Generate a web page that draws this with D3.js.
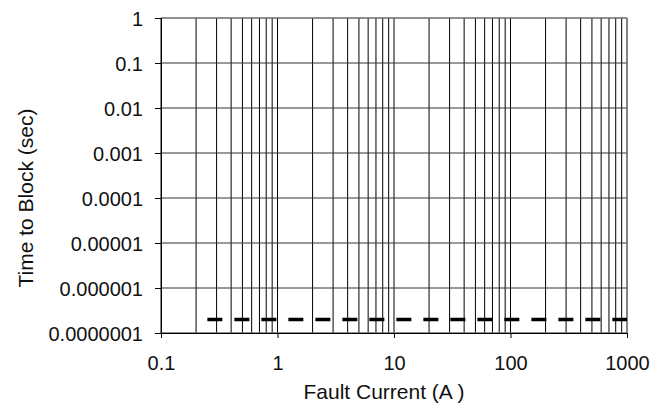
<!DOCTYPE html>
<html>
<head>
<meta charset="utf-8">
<script src="https://cdn.jsdelivr.net/npm/d3@7"></script>
<style>
  body { margin: 0; background: #fff; }
  text { font-family: 'Liberation Sans', Arial, sans-serif; fill: #111; }
</style>
</head>
<body>
<script>
// Data
const xTicks = [0.1, 1, 10, 100, 1000]
const xTickLabels = ['0.1', '1', '10', '100', '1000']
const yTicks = [1, 0.1, 0.01, 0.001, 0.0001, 0.00001, 0.000001, 0.0000001]
const yTickLabels = ['1', '0.1', '0.01', '0.001', '0.0001', '0.00001', '0.000001', '0.0000001']
const faultCurrent = [0.25, 1000]
const timeToBlock = [0.0000002, 0.0000002]

// Chart settings
const width = 655
const height = 405
const plotLeft = 161
const plotRight = 627
const plotTop = 18
const plotBottom = 333
const fontSize = 20

// Create svg
const svg = d3.select('body')
  .append('svg')
  .attr('width', width)
  .attr('height', height)

// Initialize scale
const xScale = d3.scaleLog()
  .domain([0.1, 1000])
  .range([plotLeft, plotRight])
const yScale = d3.scaleLog()
  .domain([0.0000001, 1])
  .range([plotBottom, plotTop])

// Add vertical grid lines
svg.append('g')
  .selectAll('line')
  .data(xScale.ticks())
  .enter()
  .append('line')
  .attr('x1', d => xScale(d))
  .attr('x2', d => xScale(d))
  .attr('y1', plotTop)
  .attr('y2', plotBottom)
  .attr('stroke', '#000')
  .attr('stroke-width', 1)

// Add horizontal grid lines
svg.append('g')
  .selectAll('line')
  .data(yTicks)
  .enter()
  .append('line')
  .attr('x1', plotLeft)
  .attr('x2', plotRight)
  .attr('y1', d => yScale(d))
  .attr('y2', d => yScale(d))
  .attr('stroke', '#333')
  .attr('stroke-width', 1)

// Add plot border
svg.append('rect')
  .attr('x', plotLeft)
  .attr('y', plotTop)
  .attr('width', plotRight - plotLeft)
  .attr('height', plotBottom - plotTop)
  .attr('fill', 'none')
  .attr('stroke', '#888')

// Add X axis
const xAxis = d3.axisBottom(xScale)
  .tickValues(xTicks)
  .tickFormat((d, i) => xTickLabels[i])
  .tickSize(5)
  .tickPadding(18)
svg.append('g')
  .attr('transform', `translate(0, ${plotBottom})`)
  .call(xAxis)
  .call(g => g.select('.domain').attr('stroke', '#000'))
  .call(g => g.selectAll('text').style('font-size', fontSize + 'px'))

// Add Y axis
const yAxis = d3.axisLeft(yScale)
  .tickValues(yTicks)
  .tickFormat((d, i) => yTickLabels[i])
  .tickSize(6)
  .tickPadding(12)
svg.append('g')
  .attr('transform', `translate(${plotLeft}, 0)`)
  .call(yAxis)
  .call(g => g.select('.domain').attr('stroke', '#000'))
  .call(g => g.selectAll('text').attr('dy', '0.38em').style('font-size', fontSize + 'px'))

// Add dashed line
const line = d3.line()
  .x(d => xScale(d[0]))
  .y(d => yScale(d[1]))
svg.append('path')
  .datum(faultCurrent.map((d, i) => [d, timeToBlock[i]]))
  .attr('d', line)
  .attr('fill', 'none')
  .attr('stroke', '#000')
  .attr('stroke-width', 3.5)
  .attr('stroke-dasharray', '15,12')

// Add X title
svg.append('text')
  .attr('x', 384)
  .attr('y', 399)
  .text('Fault Current (A )')
  .style('font-size', '21px')
  .style('text-anchor', 'middle')

// Add Y title
svg.append('text')
  .attr('transform', 'translate(33, 198) rotate(-90)')
  .text('Time to Block (sec)')
  .style('font-size', '21px')
  .style('text-anchor', 'middle')
</script>
</body>
</html>
